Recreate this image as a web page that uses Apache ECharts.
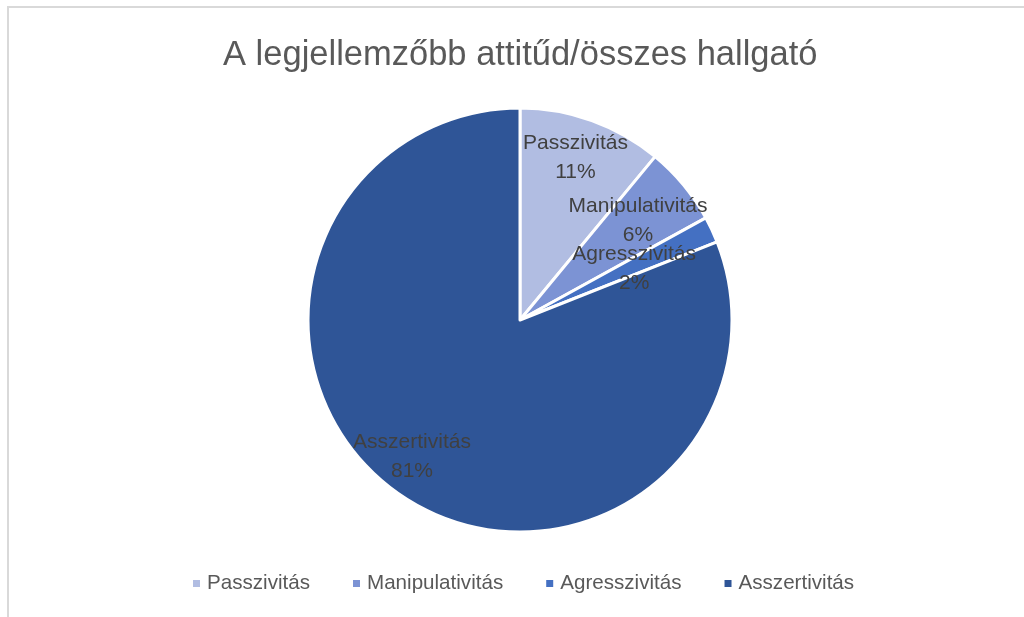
<!DOCTYPE html>
<html>
<head>
<meta charset="utf-8">
<script src="https://cdn.jsdelivr.net/npm/echarts@6/dist/echarts.min.js"></script>
<style>
  html, body { margin: 0; padding: 0; background: #ffffff; overflow: hidden; }
  #frame { position: absolute; left: 7px; top: 6px; width: 1100px; height: 700px;
           border-top: 2px solid #d9d9d9; border-left: 2px solid #d9d9d9; }
  #chart { position: absolute; left: 0; top: 0; width: 1024px; height: 617px; }
</style>
</head>
<body>
<div id="frame"></div>
<div id="chart"></div>
<script>
// Attitude categories and their share of all students (%)
const titleText = 'A legjellemzőbb attitűd/összes hallgató';
const categories = ['Passzivitás', 'Manipulativitás', 'Agresszivitás', 'Asszertivitás'];
const shares = [11, 6, 2, 81];

const colors = ['#b1bde2', '#7c93d4', '#4470c2', '#2f5597'];
// nudges that keep the crowded slice labels apart
const labelShift = [[-3, 0], [-15, 11], [-42, 22], [-11, -6]];

const FONT = 'Liberation Sans';
const center = [520, 320];
const R = 212;

const pieData = categories.map((name, i) => ({
  name: name,
  value: shares[i],
  itemStyle: { color: colors[i] }
}));

const labelData = categories.map((name, i) => ({
  name: name,
  value: shares[i],
  label: { offset: labelShift[i] }
}));

const chart = echarts.init(document.getElementById('chart'), null, { renderer: 'canvas' });
chart.setOption({
  backgroundColor: 'transparent',
  animation: false,
  title: {
    text: titleText,
    left: 218,
    top: 33,
    textStyle: { fontFamily: FONT, fontSize: 34.5, fontWeight: 'normal', color: '#595959' }
  },
  legend: {
    bottom: 18,
    left: 186,
    itemWidth: 9,
    itemHeight: 9,
    itemGap: 41,
    icon: 'rect',
    textStyle: { fontFamily: FONT, fontSize: 20.6, color: '#595959', padding: [0, 0, 0, 1] },
    data: categories.map((n, i) => ({ name: n, itemStyle: { color: colors[i] } }))
  },
  series: [
    {
      type: 'pie',
      center: center,
      radius: [0, R],
      startAngle: 90,
      clockwise: true,
      label: { show: false },
      labelLine: { show: false },
      emphasis: { disabled: true },
      itemStyle: { borderColor: '#ffffff', borderWidth: 3 },
      data: pieData
    },
    {
      // transparent twin ring: its inside labels sit at 80% of the visible radius
      type: 'pie',
      center: center,
      radius: [0, R * 1.6],
      startAngle: 90,
      clockwise: true,
      silent: true,
      avoidLabelOverlap: false,
      emphasis: { disabled: true },
      itemStyle: { color: 'rgba(0,0,0,0)', borderWidth: 0 },
      labelLine: { show: false },
      label: {
        show: true,
        position: 'inside',
        formatter: p => p.name + '\n' + p.value + '%',
        fontFamily: FONT,
        fontSize: 21,
        lineHeight: 29,
        color: '#404040',
        align: 'center'
      },
      labelLayout: { hideOverlap: false },
      data: labelData
    }
  ]
});
</script>
</body>
</html>
